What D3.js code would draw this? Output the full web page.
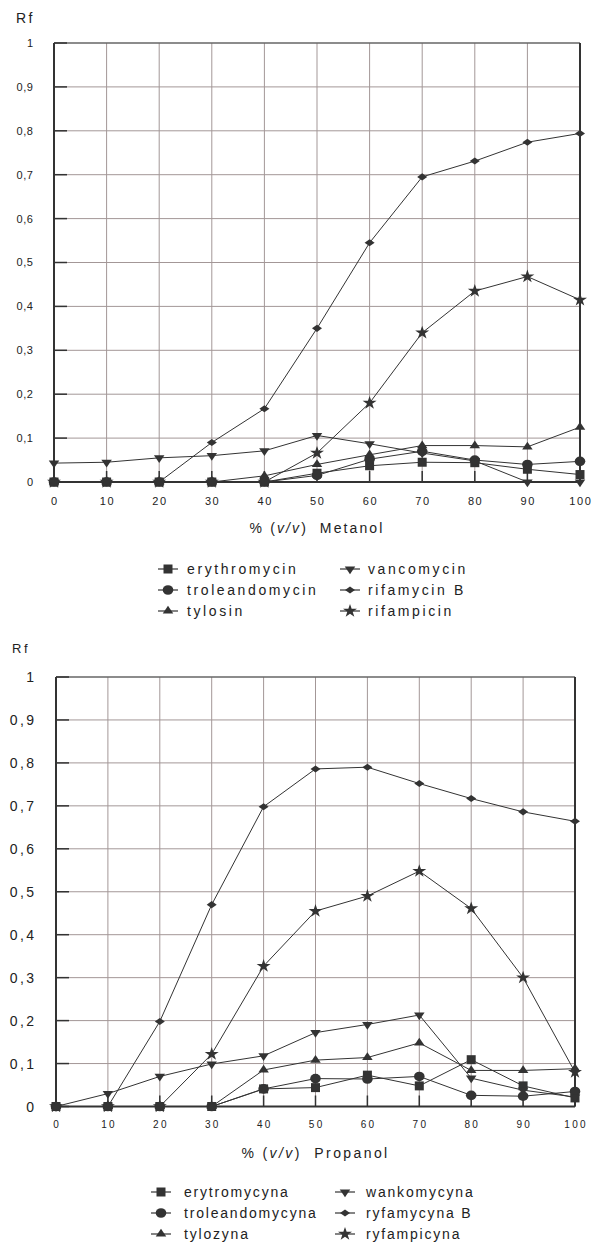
<!DOCTYPE html>
<html>
<head>
<meta charset="utf-8">
<script src="https://cdn.jsdelivr.net/npm/d3@7"></script>
<style>
  body { margin: 0; background: #fff; }
  text { font-family: "Liberation Sans", Arial, sans-serif; fill: #222; white-space: pre; }
</style>
</head>
<body>
<script>
// x values (% v/v) shared by both charts
let xValues = [0, 10, 20, 30, 40, 50, 60, 70, 80, 90, 100];
let xTicks = [0, 10, 20, 30, 40, 50, 60, 70, 80, 90, 100];
let yTicks = [0, 0.1, 0.2, 0.3, 0.4, 0.5, 0.6, 0.7, 0.8, 0.9, 1];
let yTickLabels = ['0', '0,1', '0,2', '0,3', '0,4', '0,5', '0,6', '0,7', '0,8', '0,9', '1'];

// Metanol
let metNames = ['erythromycin', 'troleandomycin', 'tylosin', 'vancomycin', 'rifamycin B', 'rifampicin'];
let metErythromycin = [0, 0, 0, 0, 0, 0.02, 0.037, 0.045, 0.044, 0.029, 0.017];
let metTroleandomycin = [0, 0, 0, 0, 0, 0.015, 0.052, 0.07, 0.05, 0.04, 0.047];
let metTylosin = [0, 0, 0, 0, 0.014, 0.04, 0.062, 0.083, 0.083, 0.08, 0.125];
let metVancomycin = [0.043, 0.045, 0.055, 0.06, 0.071, 0.106, 0.087, 0.066, 0.048, 0, 0];
let metRifamycinB = [0, 0, 0, 0.09, 0.167, 0.35, 0.545, 0.695, 0.731, 0.774, 0.794];
let metRifampicin = [0, 0, 0, 0, 0, 0.066, 0.18, 0.34, 0.435, 0.468, 0.415];

// Propanol
let propNames = ['erytromycyna', 'troleandomycyna', 'tylozyna', 'wankomycyna', 'ryfamycyna B', 'ryfampicyna'];
let propErytromycyna = [0, 0, 0, 0, 0.041, 0.044, 0.073, 0.048, 0.109, 0.048, 0.02];
let propTroleandomycyna = [0, 0, 0, 0, 0.041, 0.065, 0.064, 0.07, 0.026, 0.024, 0.035];
let propTylozyna = [0, 0, 0, 0, 0.085, 0.108, 0.114, 0.148, 0.084, 0.084, 0.088];
let propWankomycyna = [0, 0.03, 0.07, 0.099, 0.118, 0.172, 0.191, 0.213, 0.066, 0.038, 0.022];
let propRyfamycynaB = [0, 0, 0.198, 0.47, 0.698, 0.786, 0.79, 0.752, 0.717, 0.686, 0.664];
let propRyfampicyna = [0, 0, 0, 0.122, 0.327, 0.455, 0.49, 0.548, 0.461, 0.3, 0.08];

let ink = '#333';
let gridColor = '#a39797';

// marker shapes, same order as the series
let markers = [
  { type: d3.symbolSquare, size: 81, rot: 0, sx: 1, sy: 1 },
  { type: d3.symbolCircle, size: 80, rot: 0, sx: 1.05, sy: 0.95 },
  { type: d3.symbolTriangle, size: 48, rot: 0, sx: 1.0, sy: 0.85 },
  { type: d3.symbolTriangle, size: 48, rot: 180, sx: 1.0, sy: 0.85 },
  { type: d3.symbolDiamond, size: 34, rot: 0, sx: 1.6, sy: 0.65 },
  { type: d3.symbolStar, size: 55, rot: 0, sx: 1.05, sy: 1 }
];

let svg = d3.select('body').append('svg')
  .attr('width', 592)
  .attr('height', 1243);

function markerPath(m) {
  return d3.symbol().type(m.type).size(m.size)();
}

function markerTransform(m, x, y) {
  return 'translate(' + x + ',' + y + ') rotate(' + m.rot + ') scale(' + m.sx + ',' + m.sy + ')';
}

function drawChart(cfg) {
  let g = svg.append('g');

  let x = d3.scaleLinear().domain([0, 100]).range([cfg.left, cfg.right]);
  let y = d3.scaleLinear().domain([0, 1]).range([cfg.bottom, cfg.top]);

  // grid
  g.selectAll('.vgrid')
    .data(xTicks.slice(1, -1))
    .enter()
    .append('line')
    .attr('x1', d => x(d)).attr('x2', d => x(d))
    .attr('y1', cfg.top).attr('y2', cfg.bottom)
    .attr('stroke', gridColor)
    .attr('stroke-width', 1);

  g.selectAll('.hgrid')
    .data(yTicks.slice(1, -1))
    .enter()
    .append('line')
    .attr('x1', cfg.left).attr('x2', cfg.right)
    .attr('y1', d => y(d)).attr('y2', d => y(d))
    .attr('stroke', gridColor)
    .attr('stroke-width', 1);

  // frame
  g.append('line')
    .attr('x1', cfg.left).attr('x2', cfg.right)
    .attr('y1', cfg.top).attr('y2', cfg.top)
    .attr('stroke', '#666').attr('stroke-width', 1.5);
  g.append('line')
    .attr('x1', cfg.right).attr('x2', cfg.right)
    .attr('y1', cfg.top).attr('y2', cfg.bottom)
    .attr('stroke', ink).attr('stroke-width', 2);

  // tick marks inside the plot
  g.selectAll('.ytick')
    .data(yTicks)
    .enter()
    .append('line')
    .attr('x1', cfg.left).attr('x2', cfg.left + 13)
    .attr('y1', d => y(d)).attr('y2', d => y(d))
    .attr('stroke', ink).attr('stroke-width', 1.5);

  g.selectAll('.xtick')
    .data(xTicks)
    .enter()
    .append('line')
    .attr('x1', d => x(d)).attr('x2', d => x(d))
    .attr('y1', cfg.bottom).attr('y2', cfg.bottom - 11)
    .attr('stroke', ink).attr('stroke-width', 1.5);

  // axis lines
  g.append('line')
    .attr('x1', cfg.left).attr('x2', cfg.left)
    .attr('y1', cfg.top).attr('y2', cfg.bottom)
    .attr('stroke', ink).attr('stroke-width', 2);
  g.append('line')
    .attr('x1', cfg.left).attr('x2', cfg.right)
    .attr('y1', cfg.bottom).attr('y2', cfg.bottom)
    .attr('stroke', ink).attr('stroke-width', 2);

  // tick labels
  g.selectAll('.ylab')
    .data(yTicks)
    .enter()
    .append('text')
    .attr('x', cfg.yLabelX + cfg.yLabelLs)
    .attr('y', d => y(d))
    .attr('dy', '0.36em')
    .attr('text-anchor', 'end')
    .style('font-size', cfg.yLabelSize + 'px')
    .style('letter-spacing', cfg.yLabelLs + 'px')
    .text((d, i) => yTickLabels[i]);

  g.selectAll('.xlab')
    .data(xTicks)
    .enter()
    .append('text')
    .attr('x', d => x(d) + cfg.xLabelLs / 2)
    .attr('y', cfg.xLabelY)
    .attr('text-anchor', 'middle')
    .style('font-size', cfg.xLabelSize + 'px')
    .style('letter-spacing', cfg.xLabelLs + 'px')
    .text(d => d);

  // Rf label
  g.append('text')
    .attr('x', cfg.rfX).attr('y', cfg.rfY)
    .style('font-size', cfg.rfSize + 'px')
    .style('letter-spacing', '2.5px')
    .text('Rf');

  // x title
  let title = g.append('text')
    .attr('x', (cfg.left + cfg.right) / 2)
    .attr('y', cfg.titleY)
    .attr('text-anchor', 'middle')
    .style('font-size', '14px')
    .style('letter-spacing', cfg.titleLs + 'px');
  title.append('tspan').text('% (');
  title.append('tspan').style('font-style', 'italic').text('v/v');
  title.append('tspan').text(')  ' + cfg.solvent);

  // series
  let line = d3.line()
    .x((d, i) => x(xValues[i]))
    .y(d => y(d));

  cfg.series.forEach(function(values, s) {
    g.append('path')
      .attr('d', line(values))
      .attr('fill', 'none')
      .attr('stroke', ink)
      .attr('stroke-width', 1);
  });

  cfg.series.forEach(function(values, s) {
    let m = markers[s];
    g.selectAll('.mk' + s)
      .data(values)
      .enter()
      .append('path')
      .attr('d', markerPath(m))
      .attr('transform', (d, i) => markerTransform(m, x(xValues[i]), y(d)))
      .attr('fill', ink);
  });

  // legend: two columns of three
  cfg.names.forEach(function(name, s) {
    let col = Math.floor(s / 3);
    let row = s % 3;
    let mx = cfg.legendMarkerX[col];
    let my = cfg.legendY + row * 21;
    g.append('line')
      .attr('x1', mx - 10).attr('x2', mx + 10)
      .attr('y1', my).attr('y2', my)
      .attr('stroke', ink).attr('stroke-width', 1.2);
    g.append('path')
      .attr('d', markerPath(markers[s]))
      .attr('transform', markerTransform(markers[s], mx, my))
      .attr('fill', ink);
    g.append('text')
      .attr('x', cfg.legendTextX[col])
      .attr('y', my)
      .attr('dy', '0.36em')
      .style('font-size', '14px')
      .style('letter-spacing', cfg.legendLs + 'px')
      .text(name);
  });
}

drawChart({
  left: 54, right: 580, top: 43, bottom: 482,
  yLabelX: 33, yLabelSize: 11, yLabelLs: 0.6,
  xLabelY: 505, xLabelSize: 11, xLabelLs: 1.6,
  rfX: 16, rfY: 23, rfSize: 14,
  titleY: 533, titleLs: 2.1, solvent: 'Metanol',
  series: [metErythromycin, metTroleandomycin, metTylosin, metVancomycin, metRifamycinB, metRifampicin],
  names: metNames,
  legendY: 569, legendMarkerX: [168, 350], legendTextX: [187, 368], legendLs: 2.6
});

drawChart({
  left: 56, right: 575, top: 677, bottom: 1106.5,
  yLabelX: 34, yLabelSize: 14, yLabelLs: 2.4,
  xLabelY: 1128, xLabelSize: 10, xLabelLs: 2.3,
  rfX: 12, rfY: 653, rfSize: 13,
  titleY: 1158, titleLs: 2.4, solvent: 'Propanol',
  series: [propErytromycyna, propTroleandomycyna, propTylozyna, propWankomycyna, propRyfamycynaB, propRyfampicyna],
  names: propNames,
  legendY: 1192, legendMarkerX: [161, 345], legendTextX: [184, 366], legendLs: 1.8
});
</script>
</body>
</html>
